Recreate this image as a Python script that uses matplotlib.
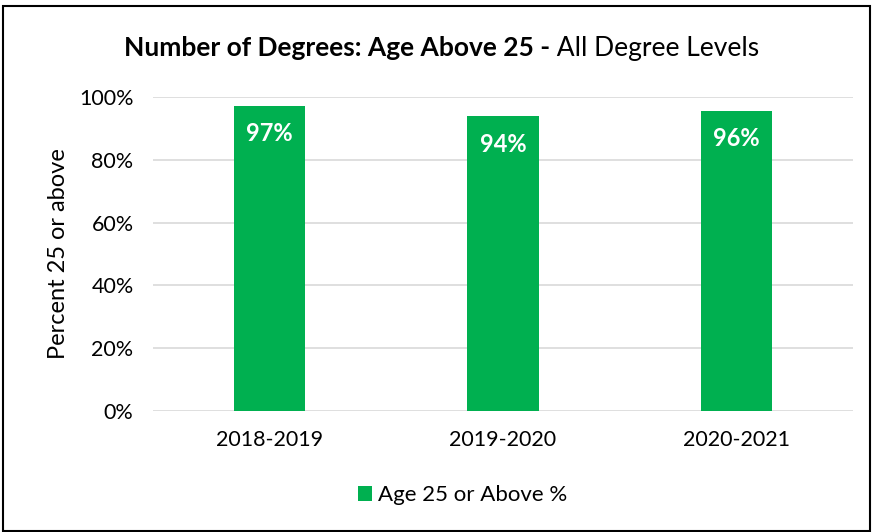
import matplotlib.pyplot as plt
from matplotlib.patches import Rectangle

# data
years = ['2018-2019', '2019-2020', '2020-2021']
pct_above_25 = [0.973, 0.940, 0.957]
bar_labels = ['97%', '94%', '96%']
yticks = [0, 0.2, 0.4, 0.6, 0.8, 1.0]
ytick_labels = ['0%', '20%', '40%', '60%', '80%', '100%']

green = '#00B050'
plt.rcParams['font.family'] = ['Lato', 'DejaVu Sans']

fig = plt.figure(figsize=(8.73, 5.32), dpi=100)
ax = fig.add_axes([0.1753, 0.2274, 0.8018, 0.5902])

x = range(len(years))
bars = ax.bar(x, pct_above_25, width=0.305, color=green, zorder=3,
              label='Age 25 or Above %')

for b, lab in zip(bars, bar_labels):
    ax.annotate(lab, (b.get_x() + b.get_width() / 2, b.get_height()),
                xytext=(0, -12), textcoords='offset points',
                ha='center', va='top', color='white',
                fontsize=17, fontweight='bold')

ax.set_xlim(-0.5, 2.5)
ax.set_ylim(0, 1.0)
ax.set_yticks(yticks)
ax.set_yticklabels(ytick_labels, fontsize=15.5)
ax.set_xticks(list(x))
ax.set_xticklabels(years, fontsize=15.5)
ax.tick_params(length=0, pad=14)
ax.tick_params(axis='x', pad=14)
ax.grid(axis='y', color='#D9D9D9', linewidth=1.2, zorder=0)
for s in ax.spines.values():
    s.set_visible(False)
ax.set_ylabel('Percent 25 or above', fontsize=17, labelpad=7)

# title: bold part + regular part
fig.text(0.630, 0.895, 'Number of Degrees: Age Above 25 -',
         ha='right', va='baseline', fontsize=19, fontweight='bold')
fig.text(0.630, 0.895, ' All Degree Levels',
         ha='left', va='baseline', fontsize=19)

fig.legend(handles=[bars], labels=['Age 25 or Above %'],
           loc='center', bbox_to_anchor=(0.53, 0.069), frameon=False,
           fontsize=16, handlelength=0.62, handleheight=0.62,
           handletextpad=0.3)

# chart border
fig.add_artist(Rectangle((0.003, 0.002), 0.994, 0.986,
                         transform=fig.transFigure, fill=False,
                         edgecolor='black', linewidth=1.5))

fig.savefig('out.png', dpi=100)
